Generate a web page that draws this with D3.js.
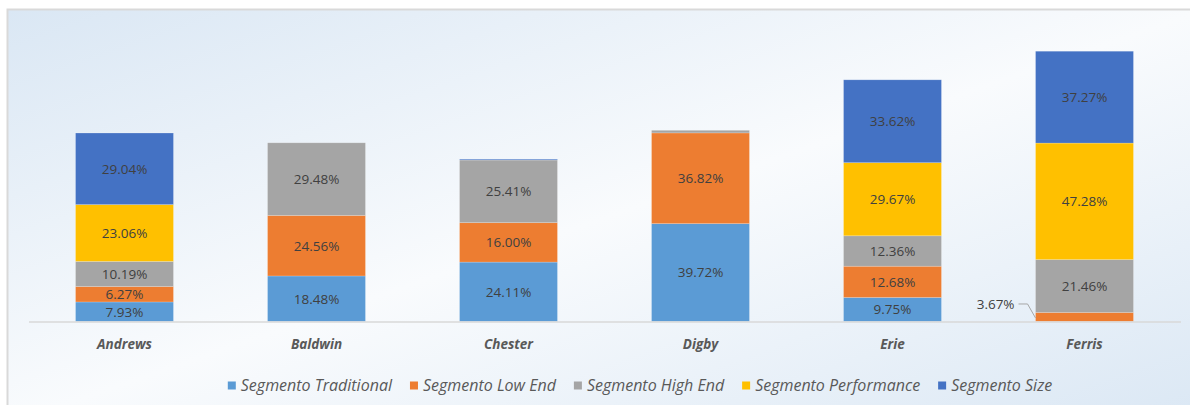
<!DOCTYPE html>
<html>
<head>
<meta charset="utf-8">
<script src="https://cdn.jsdelivr.net/npm/d3@7"></script>
<style>
  html, body { margin: 0; padding: 0; background: #fff; }
  svg { display: block; font-family: "Open Sans", "Noto Sans", sans-serif; }
</style>
</head>
<body>
<svg id="chart"></svg>
<script>
// data (percent share per company)
var categories = ["Andrews", "Baldwin", "Chester", "Digby", "Erie", "Ferris"];
var seriesNames = ["Segmento Traditional", "Segmento Low End", "Segmento High End", "Segmento Performance", "Segmento Size"];
var traditional = [7.93, 18.48, 24.11, 39.72, 9.75, 0];
var lowEnd = [6.27, 24.56, 16.00, 36.82, 12.68, 3.67];
var highEnd = [10.19, 29.48, 25.41, 1.05, 12.36, 21.46];
var performance = [23.06, 0, 0, 0, 29.67, 47.28];
var size = [29.04, 0, 0.35, 0, 33.62, 37.27];
var colors = ["#5b9bd5", "#ed7d31", "#a5a5a5", "#ffc000", "#4472c4"];

var svgWidth = 1190, svgHeight = 405;

var svg = d3.select("#chart")
    .attr("width", svgWidth)
    .attr("height", svgHeight);

// background gradient like the office chart area
var defs = svg.append("defs");
var grad = defs.append("linearGradient")
    .attr("id", "bg")
    .attr("x1", 0).attr("y1", 0)
    .attr("x2", 1).attr("y2", 1);
grad.append("stop").attr("offset", "0%").attr("stop-color", "#dae7f4");
grad.append("stop").attr("offset", "50%").attr("stop-color", "#f9fbfd");
grad.append("stop").attr("offset", "100%").attr("stop-color", "#dae7f4");

svg.append("rect")
    .attr("x", 7.5)
    .attr("y", 9.5)
    .attr("width", svgWidth + 10)
    .attr("height", svgHeight + 10)
    .attr("fill", "url(#bg)")
    .attr("stroke", "#d9d9d9")
    .attr("stroke-width", 2);

// table for the stack
var table = categories.map(function (c, i) {
    return {
        name: c,
        "Segmento Traditional": traditional[i],
        "Segmento Low End": lowEnd[i],
        "Segmento High End": highEnd[i],
        "Segmento Performance": performance[i],
        "Segmento Size": size[i]
    };
});

var stacked = d3.stack().keys(seriesNames)(table);

var xScale = d3.scaleBand()
    .domain(categories)
    .range([28.5, 1180.5])
    .paddingInner(0.49)
    .paddingOuter(0.245);

var yScale = d3.scaleLinear()
    .domain([0, 120])
    .range([321.5, 25.8]);

var color = d3.scaleOrdinal().domain(seriesNames).range(colors);

var layers = svg.selectAll("g.layer")
    .data(stacked)
    .enter()
    .append("g")
    .attr("class", "layer")
    .attr("fill", function (d) { return color(d.key); });

layers.selectAll("rect")
    .data(function (d) { return d; })
    .enter()
    .append("rect")
    .attr("x", function (d) { return xScale(d.data.name); })
    .attr("y", function (d) { return yScale(d[1]); })
    .attr("height", function (d) { return yScale(d[0]) - yScale(d[1]); })
    .attr("width", xScale.bandwidth())
    .attr("stroke", "#ffffff")
    .attr("stroke-opacity", 0.25)
    .attr("stroke-width", 0.75);

// axis with category names
var x_axis = d3.axisBottom(xScale)
    .tickSize(0)
    .tickSizeOuter(0)
    .tickPadding(18);

var axisG = svg.append("g")
    .attr("transform", "translate(0, 321.5)")
    .call(x_axis);
axisG.select(".domain")
    .attr("stroke", "#d9d9d9")
    .attr("stroke-width", 1.5);
axisG.selectAll("text")
    .attr("fill", "#595959")
    .style("font-size", "13.5px")
    .style("font-weight", "bold")
    .style("font-style", "italic")
    .style("font-family", "'Open Sans', sans-serif");

// data labels
var fmt = function (v) { return v.toFixed(2) + "%"; };
var labelG = svg.append("g");

stacked.forEach(function (layer) {
    layer.forEach(function (d) {
        var v = d[1] - d[0];
        var cx = xScale(d.data.name) + xScale.bandwidth() / 2;
        var cy = (yScale(d[0]) + yScale(d[1])) / 2;
        if (v >= 5) {
            labelG.append("text")
                .attr("x", cx)
                .attr("y", cy)
                .attr("dy", "0.36em")
                .attr("text-anchor", "middle")
                .attr("fill", "#404040")
                .style("font-size", "13.5px")
                .text(fmt(v));
        } else if (v >= 2) {
            // small slice: label outside with a leader line
            var bx = xScale(d.data.name);
            var ly = cy - 13;
            labelG.append("path")
                .attr("d", "M" + (bx - 17) + "," + ly + "H" + (bx - 8) + "L" + bx + "," + (cy + 1))
                .attr("fill", "none")
                .attr("stroke", "#a6a6a6")
                .attr("stroke-width", 1);
            labelG.append("text")
                .attr("x", bx - 21)
                .attr("y", ly)
                .attr("dy", "0.36em")
                .attr("text-anchor", "end")
                .attr("fill", "#404040")
                .style("font-size", "13.5px")
                .text(fmt(v));
        }
    });
});

// legend, centred under the plot
var legend = svg.append("g").attr("class", "legend");
var items = legend.selectAll("g")
    .data(seriesNames)
    .enter()
    .append("g");

items.append("rect")
    .attr("width", 8)
    .attr("height", 8)
    .attr("y", -4)
    .attr("fill", function (d) { return color(d); });

items.append("text")
    .attr("x", 13)
    .attr("dy", "0.35em")
    .attr("fill", "#595959")
    .style("font-size", "16px")
    .style("font-style", "italic")
    .text(function (d) { return d; });

var offset = 0;
items.each(function () {
    var g = d3.select(this);
    var w = g.select("text").node().getComputedTextLength();
    g.attr("transform", "translate(" + offset + ",0)");
    offset += 13 + w + 18;
});
var legendWidth = offset - 18;
legend.attr("transform", "translate(" + (640 - legendWidth / 2) + ", 385.5)");
</script>
</body>
</html>
